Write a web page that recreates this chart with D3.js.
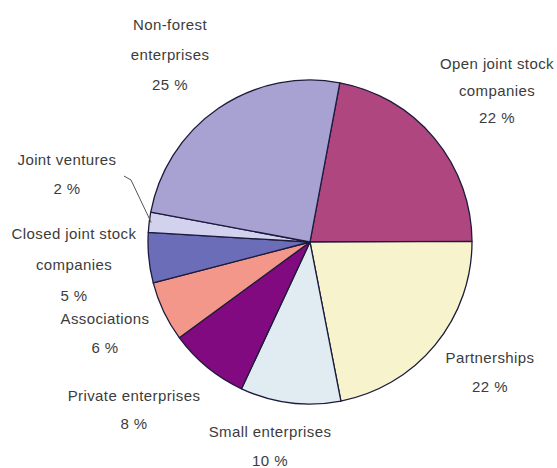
<!DOCTYPE html>
<html>
<head>
<meta charset="utf-8">
<script src="https://cdn.jsdelivr.net/npm/d3@7"></script>
<style>
  html, body { margin: 0; padding: 0; background: #fff; }
  svg text { font-family: "Liberation Sans", Arial, sans-serif; fill: #3c3c3c; }
</style>
</head>
<body>
<svg id="chart" width="557" height="468"></svg>
<script>
// Enterprise types and their shares (%), clockwise from the top
const categories = [
  "Open joint stock companies",
  "Partnerships",
  "Small enterprises",
  "Private enterprises",
  "Associations",
  "Closed joint stock companies",
  "Joint ventures",
  "Non-forest enterprises"
];
const shares = [22, 22, 10, 8, 6, 5, 2, 25];
const colors = ["#b0467f", "#f6f3cd", "#e0ebf2", "#820a80", "#f29789", "#6b6db9", "#d2d2ee", "#a8a2d2"];

// Label lines for each slice (name lines followed by the percentage)
const labelLines = [
  ["Open joint stock", "companies"],
  ["Partnerships"],
  ["Small enterprises"],
  ["Private enterprises"],
  ["Associations"],
  ["Closed joint stock", "companies"],
  ["Joint ventures"],
  ["Non-forest", "enterprises"]
];
// Label anchor points (centre of first line) and line spacing
const labelPos = [
  [497, 64, 27], [490, 358, 29], [270, 432, 29], [134, 396, 28],
  [105, 319, 29], [74, 234, 31], [67, 160, 29], [170, 25, 30]
];

const svg = d3.select("#chart");
const cx = 310, cy = 242, r = 162;
const offset = 10.6 * Math.PI / 180;

const pie = d3.pie().sort(null).value(d => d)
  .startAngle(offset).endAngle(offset + 2 * Math.PI);
const arc = d3.arc().innerRadius(0).outerRadius(r);

const g = svg.append("g").attr("transform", `translate(${cx},${cy})`);
g.selectAll("path")
  .data(pie(shares))
  .join("path")
  .attr("d", arc)
  .attr("fill", (d, i) => colors[i])
  .attr("stroke", "#1d1b3c")
  .attr("stroke-width", 1.3)
  .attr("stroke-linejoin", "round");

// Labels
labelLines.forEach((lines, i) => {
  const [x, y, dy] = labelPos[i];
  const all = lines.concat([shares[i] + " %"]);
  const t = svg.append("text")
    .attr("text-anchor", "middle")
    .attr("font-size", 15)
    .attr("letter-spacing", "0.4px");
  all.forEach((s, k) => {
    t.append("tspan").attr("x", x).attr("y", y + 5 + k * dy).text(s);
  });
});

// Leader line for the small joint-ventures slice
const jv = pie(shares)[6];
const mid = (jv.startAngle + jv.endAngle) / 2;
const tip = [cx + Math.sin(mid) * (r - 2), cy - Math.cos(mid) * (r - 2)];
svg.append("path")
  .attr("d", d3.line()([[124, 176], [131, 180], tip]))
  .attr("fill", "none")
  .attr("stroke", "#555")
  .attr("stroke-width", 1);
</script>
</body>
</html>
